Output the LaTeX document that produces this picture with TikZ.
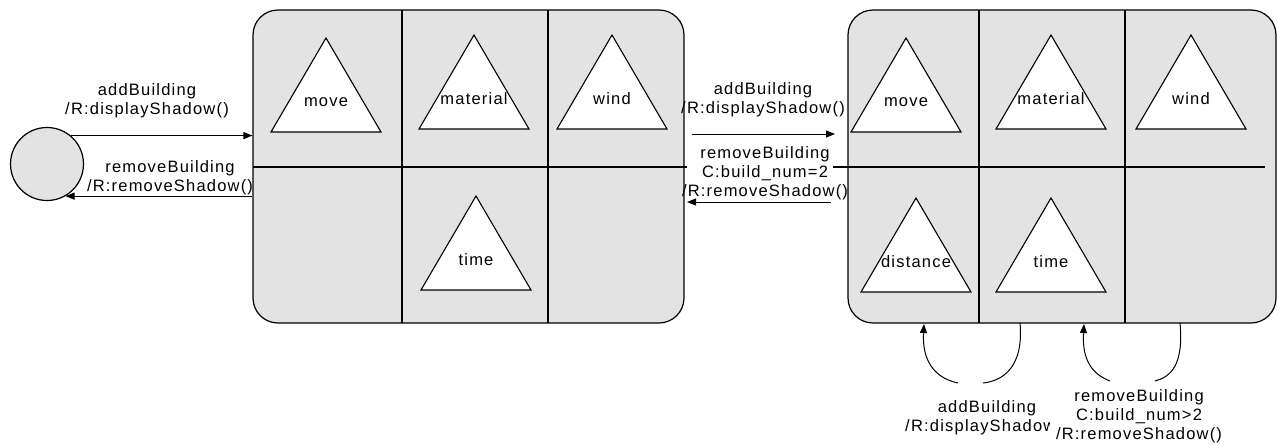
\documentclass[tikz,border=0pt]{standalone}
\usepackage{fontspec}
\setmainfont{Liberation Sans}[LetterSpace=7.3]
\usetikzlibrary{arrows.meta}
\definecolor{stategray}{HTML}{E3E3E3}
\tikzset{
  every node/.style={font=\fontsize{16.5}{19}\selectfont},
  statebox/.style={draw, fill=stategray, rounded corners=25pt, inner sep=0pt,
    minimum height=313pt},
  initstate/.style={draw, circle, fill=stategray, minimum size=73pt, inner sep=0pt},
  lbl/.style={align=center, inner sep=2pt},
  arr/.style={-{Triangle[length=9pt,width=7pt]}, line width=1pt},
  curve/.style={line width=1pt},
  pics/cue/.style={code={
    \draw[fill=white, line width=1.1pt] (0,0) -- (-55,94) -- (55,94) -- cycle;
    \node (-l) at (0,64) {#1};
  }}
}
\begin{document}
\begin{tikzpicture}[x=1pt, y=-1pt, line width=1.2pt]
\useasboundingbox (0,0) rectangle (1278,445);

% initial state
\node[initstate] (init) at (47,164) {};

% first composite state
\node[statebox, minimum width=431pt] (S1) at (468.5,166.5) {};
\draw (402,10) -- (402,323);
\draw (548,10) -- (548,323);
\draw (253,167) -- (687,167);
\pic (a1) at (326,38) {cue=move};
\pic (a2) at (474,35) {cue=material};
\pic (a3) at (612,35) {cue=wind};
\pic (a4) at (476,196) {cue=time};

% second composite state
\node[statebox, minimum width=428pt] (S2) at (1062,166.5) {};
\draw (979,10) -- (979,323);
\draw (1125,10) -- (1125,323);
\draw (833,167) -- (1265,167);
\pic (b1) at (906,38) {cue=move};
\pic (b2) at (1051,35) {cue=material};
\pic (b3) at (1191,35) {cue=wind};
\pic (b4) at (916,198) {cue=distance};
\pic (b5) at (1051,198) {cue=time};

% transitions between initial state and first state
\draw[arr] (init.50) -- (init.50 -| S1.west);
\node[lbl] (l1) at (147,101) {addBuilding\\/R:displayShadow()};
\draw[arr] (S1.west |- init.-60) -- (init.-60);
\node[lbl] (l2) at (170,177.5) {removeBuilding\\/R:removeShadow()};

% transitions between the two states
\coordinate (m1a) at (692,134);
\coordinate (m1b) at (835,134);
\coordinate (m2a) at (831,202);
\coordinate (m2b) at (687,202);
\draw[arr] (m1a) -- (m1b);
\node[lbl] (l3) at (763,99.5) {addBuilding\\/R:displayShadow()};
\draw[arr] (m2a) -- (m2b);
\node[lbl] (l4) at (765,173) {removeBuilding\\C:build\_num=2\\/R:removeShadow()};

% self transitions on the second state
\coordinate (s1o) at (1020,323);
\coordinate (s1i) at (924,324);
\coordinate (s2o) at (1180,323);
\coordinate (s2i) at (1084,324);
\draw[curve] (s1o) .. controls (1024,368) and (1002,381) .. (983,383);
\draw[arr] (958,383) .. controls (934,378) and (922,360) .. (s1i);
\draw[curve] (s2o) .. controls (1184,366) and (1170,377) .. (1155,381);
\draw[arr] (1110,381) .. controls (1092,374) and (1082,360) .. (s2i);
\node[lbl] (l5) at (987,418) {addBuilding\\/R:displayShadow()};
\node[lbl, fill=white, inner ysep=4pt, inner xsep=6pt] (l6) at (1139,416) {removeBuilding\\C:build\_num>2\\/R:removeShadow()};
\end{tikzpicture}
\end{document}
